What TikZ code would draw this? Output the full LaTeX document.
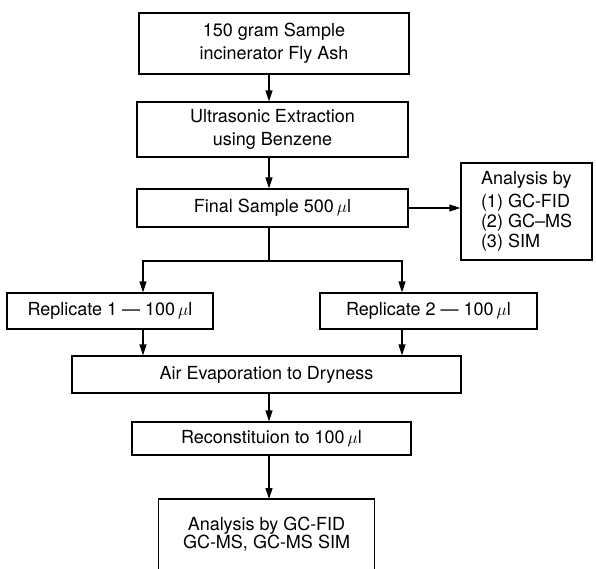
\documentclass[tikz,border=0pt]{standalone}
\usepackage{fontspec}
\setmainfont{TeX Gyre Heros}
\usepackage{tikz}
\usetikzlibrary{arrows.meta, calc}
\tikzset{
  stepbox/.style={
    draw,
    line width=1.3pt,
    inner sep=0pt,
    align=center,
    font=\fontsize{18}{23}\selectfont
  },
  flow/.style={
    -{Triangle[length=11pt, width=7pt]},
    line width=1.3pt
  },
  plain flow/.style={
    -,
    line width=1.3pt
  }
}

\begin{document}
\begin{tikzpicture}[x=1pt, y=-1pt]

  \useasboundingbox (0, 0) rectangle (596, 568);

  %% ---- main column ----
  \node[stepbox, minimum width=270, minimum height=61] (sample) at (274, 43.5)
      {150 gram Sample\\incinerator Fly Ash};
  \node[stepbox, minimum width=271, minimum height=55] (extract) at (272.5, 129.5)
      {Ultrasonic Extraction\\using Benzene};
  \node[stepbox, minimum width=271, minimum height=38] (final) at (272.5, 208)
      {Final Sample 500\,$\mu$l};

  %% ---- side box ----
  \node[stepbox, minimum width=131, minimum height=97, align=left,
        font=\fontsize{18}{20}\selectfont] (sideanalysis) at (526.5, 211.5)
      {Analysis by\\[3pt](1) GC-FID\\(2) GC\textendash MS\\(3) SIM};

  %% ---- replicates ----
  \node[stepbox, minimum width=206, minimum height=36] (rep1) at (110, 311)
      {Replicate 1 \textemdash{} 100\,$\mu$l};
  \node[stepbox, minimum width=217, minimum height=36] (rep2) at (428.5, 311)
      {Replicate 2 \textemdash{} 100\,$\mu$l};

  %% ---- lower column ----
  \node[stepbox, minimum width=389, minimum height=37] (dry) at (266.5, 374.5)
      {Air Evaporation to Dryness};
  \node[stepbox, minimum width=279, minimum height=33] (recon) at (271.5, 438.5)
      {Reconstituion to 100\,$\mu$l};
  % last box runs off the page, so no bottom edge
  \node[stepbox, draw=none, outer sep=0pt, minimum width=216, minimum height=70,
        font=\fontsize{18}{18}\selectfont] (gcanalysis) at (266.5, 534)
      {Analysis by GC-FID\\GC-MS, GC-MS SIM};
  \draw[line width=1.3pt] (gcanalysis.south west) -- (gcanalysis.north west)
      -- (gcanalysis.north east) -- (gcanalysis.south east);

  %% ---- connectors ----
  \coordinate (spine) at (269, 0);
  \coordinate (split) at (269, 261);
  \coordinate (leftdrop) at (143, 261);
  \coordinate (rightdrop) at (402, 261);

  \draw[flow] (sample.south -| spine) -- (extract.north -| spine);
  \draw[flow] (extract.south -| spine) -- (final.north -| spine);
  \draw[flow] (final.east) -- (final.east -| sideanalysis.west);

  % split into the two replicates
  \draw[plain flow] (final.south -| spine) -- (split);
  \draw[flow] (split) -- (leftdrop) -- (rep1.north -| leftdrop);
  \draw[flow] (split) -- (rightdrop) -- (rep2.north -| rightdrop);

  \draw[flow] (rep1.south -| leftdrop) -- (dry.north -| leftdrop);
  \draw[flow] (rep2.south -| rightdrop) -- (dry.north -| rightdrop);

  \draw[flow] (dry.south -| spine) -- (recon.north -| spine);
  \draw[flow] (recon.south -| spine) -- (gcanalysis.north -| spine);

\end{tikzpicture}
\end{document}
